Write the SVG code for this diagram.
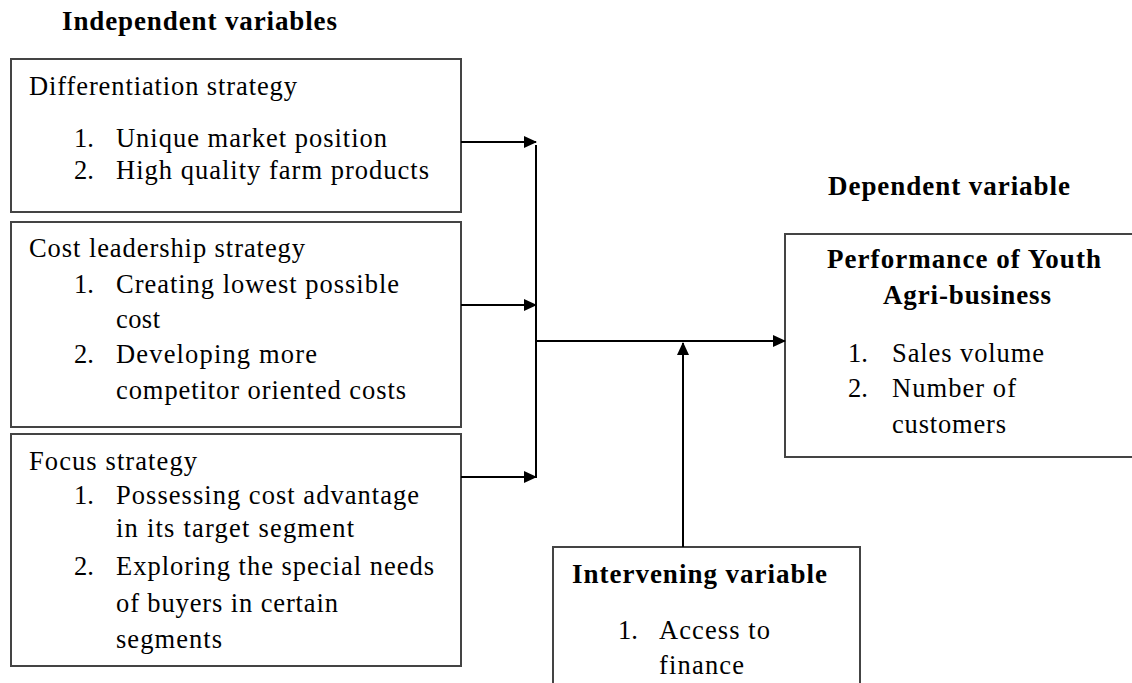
<svg xmlns="http://www.w3.org/2000/svg" width="1132" height="683" viewBox="0 0 1132 683">
<style>
.box{fill:#fff;stroke:#444;stroke-width:2}
.t{font-family:"Liberation Serif","Times New Roman",serif;font-size:26.5px;fill:#000}
.b{font-weight:bold;font-size:27px}
.ln{stroke:#000;stroke-width:2;fill:none}
</style>
<defs>
<marker id="ah" markerWidth="13" markerHeight="12" refX="12" refY="6" orient="auto" markerUnits="userSpaceOnUse">
<path d="M0,0 L13,6 L0,12 z" fill="#000"/>
</marker>
</defs>
<rect width="1132" height="683" fill="#fff"/>
<text class="t b" x="62" y="30" textLength="275">Independent variables</text>
<text class="t b" x="828" y="195" textLength="242">Dependent variable</text>
<g id="diff">
<rect class="box" x="11" y="59" width="450" height="153"/>
<text class="t" x="29" y="95" textLength="268">Differentiation strategy</text>
<text class="t" x="74" y="147">1.</text><text class="t" x="116" y="147" textLength="271">Unique market position</text>
<text class="t" x="74" y="179">2.</text><text class="t" x="116" y="179" textLength="313">High quality farm products</text>
</g>
<g id="cost">
<rect class="box" x="11" y="222" width="450" height="205"/>
<text class="t" x="29" y="257" textLength="276">Cost leadership strategy</text>
<text class="t" x="74" y="293">1.</text><text class="t" x="116" y="293" textLength="283">Creating lowest possible</text>
<text class="t" x="116" y="328" textLength="44">cost</text>
<text class="t" x="74" y="363">2.</text><text class="t" x="116" y="363" textLength="201">Developing more</text>
<text class="t" x="116" y="399" textLength="290">competitor oriented costs</text>
</g>
<g id="focus">
<rect class="box" x="11" y="434" width="450" height="232"/>
<text class="t" x="29" y="470" textLength="168">Focus strategy</text>
<text class="t" x="74" y="504">1.</text><text class="t" x="116" y="504" textLength="303">Possessing cost advantage</text>
<text class="t" x="116" y="537" textLength="238">in its target segment</text>
<text class="t" x="74" y="575">2.</text><text class="t" x="116" y="575" textLength="318">Exploring the special needs</text>
<text class="t" x="116" y="612" textLength="222">of buyers in certain</text>
<text class="t" x="116" y="648" textLength="106">segments</text>
</g>
<g id="perf">
<rect class="box" x="785" y="234" width="360" height="223"/>
<text class="t b" x="827" y="268" textLength="274">Performance of Youth</text>
<text class="t b" x="883" y="304" textLength="168">Agri-business</text>
<text class="t" x="848" y="362">1.</text><text class="t" x="892" y="362" textLength="152">Sales volume</text>
<text class="t" x="848" y="397">2.</text><text class="t" x="892" y="397" textLength="124">Number of</text>
<text class="t" x="892" y="433" textLength="114">customers</text>
</g>
<g id="interv">
<rect class="box" x="553" y="547" width="307" height="150"/>
<text class="t b" x="572" y="583" textLength="255">Intervening variable</text>
<text class="t" x="618" y="639">1.</text><text class="t" x="659" y="639" textLength="111">Access to</text>
<text class="t" x="659" y="674" textLength="85">finance</text>
</g>
<g id="connectors">
<line class="ln" x1="461" y1="142" x2="536" y2="142" marker-end="url(#ah)"/>
<line class="ln" x1="461" y1="305" x2="536" y2="305" marker-end="url(#ah)"/>
<line class="ln" x1="461" y1="477" x2="536" y2="477" marker-end="url(#ah)"/>
<line class="ln" x1="536" y1="145" x2="536" y2="478"/>
<line class="ln" x1="536" y1="341" x2="785" y2="341" marker-end="url(#ah)"/>
<line class="ln" x1="683" y1="547" x2="683" y2="343" marker-end="url(#ah)"/>
</g>
</svg>
